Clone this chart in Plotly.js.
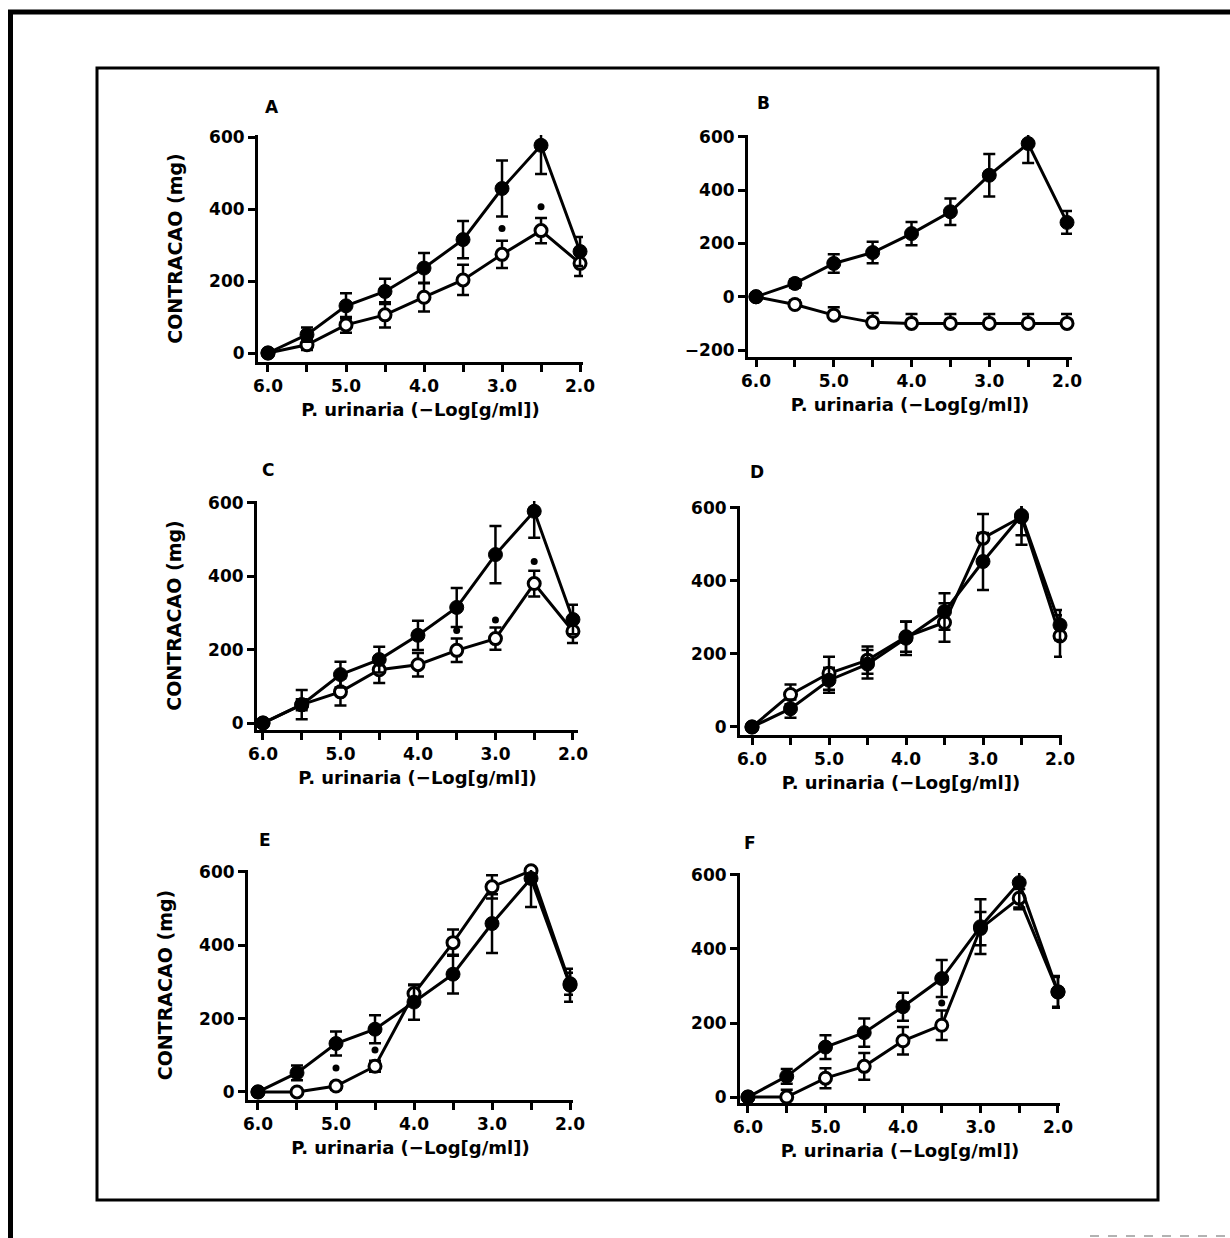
<!DOCTYPE html>
<html>
<head>
<meta charset="utf-8">
<script src="https://cdn.plot.ly/plotly-3.0.1.min.js"></script>
<style>html,body{margin:0;padding:0;background:#fff;}#chart{width:1230px;height:1238px;}</style>
</head>
<body>
<div id="chart"></div>
<script>
// ---- data ----
const doseX = [6.0, 5.5, 5.0, 4.5, 4.0, 3.5, 3.0, 2.5, 2.0];
const xTickVals = [6.0, 5.5, 5.0, 4.5, 4.0, 3.5, 3.0, 2.5, 2.0];
const xTickText = ["6.0", "", "5.0", "", "4.0", "", "3.0", "", "2.0"];
const yTicksStd = [0, 200, 400, 600];
const yTicksB = [-200, 0, 200, 400, 600];
const panelLabels = ["A", "B", "C", "D", "E", "F"];
const xTitle = "P. urinaria (\u2212Log[g/ml])";
const yTitle = "CONTRACAO (mg)";

const A_ctrl = [0, 51, 131, 171, 236, 315, 457, 577, 282];
const A_ctrlErr = [0, 20, 35, 35, 42, 52, 78, 80, 40];
const A_trt = [0, 23, 78, 106, 155, 203, 274, 340, 249];
const A_trtErr = [0, 15, 22, 35, 40, 42, 38, 35, 35];
const A_sigX = [3.0, 2.5];
const A_sigY = [346, 406];

const B_ctrl = [0, 50, 125, 166, 237, 319, 456, 575, 279];
const B_ctrlErr = [0, 15, 35, 40, 44, 50, 80, 73, 43];
const B_trt = [0, -29, -69, -96, -100, -100, -100, -100, -100];
const B_trtErr = [0, 15, 30, 35, 35, 35, 35, 35, 35];
const B_trtErrMinus = [0, 0, 0, 0, 0, 0, 0, 0, 0];
const B_sigX = [];
const B_sigY = [];

const C_ctrl = [0, 50, 132, 173, 239, 315, 459, 577, 282];
const C_ctrlErr = [0, 40, 35, 35, 40, 53, 78, 72, 40];
const C_trt = [0, 50, 85, 145, 159, 198, 230, 380, 250];
const C_trtErr = [0, 15, 37, 36, 32, 32, 30, 35, 32];
const C_sigX = [3.5, 3.0, 2.5];
const C_sigY = [252, 281, 440];

const D_ctrl = [0, 50, 128, 172, 243, 316, 453, 579, 279];
const D_ctrlErr = [0, 25, 34, 39, 46, 50, 78, 80, 41];
const D_trt = [0, 89, 147, 183, 247, 286, 517, 575, 249];
const D_trtErr = [0, 27, 45, 37, 41, 53, 66, 50, 57];
const D_sigX = [];
const D_sigY = [];

const E_ctrl = [0, 52, 132, 171, 245, 321, 459, 582, 291];
const E_ctrlErr = [0, 20, 33, 38, 48, 53, 80, 78, 45];
const E_trt = [0, 0, 16, 70, 268, 407, 559, 603, 295];
const E_trtErr = [0, 8, 10, 15, 23, 36, 32, 10, 30];
const E_sigX = [5.0, 4.5];
const E_sigY = [65, 114];

const F_ctrl = [0, 56, 135, 174, 244, 320, 460, 579, 284];
const F_ctrlErr = [0, 20, 32, 38, 38, 50, 74, 72, 43];
const F_trt = [0, 0, 51, 83, 152, 194, 455, 537, 284];
const F_trtErr = [0, 20, 27, 36, 37, 40, 45, 25, 40];
const F_sigX = [3.5];
const F_sigY = [254];

const panelsData = [
  {ctrl: A_ctrl, ctrlErr: A_ctrlErr, trt: A_trt, trtErr: A_trtErr, trtErrMinus: A_trtErr, sigX: A_sigX, sigY: A_sigY, yticks: yTicksStd},
  {ctrl: B_ctrl, ctrlErr: B_ctrlErr, trt: B_trt, trtErr: B_trtErr, trtErrMinus: B_trtErrMinus, sigX: B_sigX, sigY: B_sigY, yticks: yTicksB},
  {ctrl: C_ctrl, ctrlErr: C_ctrlErr, trt: C_trt, trtErr: C_trtErr, trtErrMinus: C_trtErr, sigX: C_sigX, sigY: C_sigY, yticks: yTicksStd},
  {ctrl: D_ctrl, ctrlErr: D_ctrlErr, trt: D_trt, trtErr: D_trtErr, trtErrMinus: D_trtErr, sigX: D_sigX, sigY: D_sigY, yticks: yTicksStd},
  {ctrl: E_ctrl, ctrlErr: E_ctrlErr, trt: E_trt, trtErr: E_trtErr, trtErrMinus: E_trtErr, sigX: E_sigX, sigY: E_sigY, yticks: yTicksStd},
  {ctrl: F_ctrl, ctrlErr: F_ctrlErr, trt: F_trt, trtErr: F_trtErr, trtErrMinus: F_trtErr, sigX: F_sigX, sigY: F_sigY, yticks: yTicksStd}
];

// ---- geometry (pixels) ----
const W = 1230, H = 1238;
const geom = [
  {l: 258, r: 583, t: 135, b: 362, xr: [6.128, 1.962], yr: [-25, 605.6], lab: [272, 107]},
  {l: 748, r: 1072, t: 135, b: 357, xr: [6.103, 1.936], yr: [-226, 607], lab: [763, 103]},
  {l: 257, r: 578, t: 501, b: 730, xr: [6.077, 1.935], yr: [-19, 605], lab: [268, 470]},
  {l: 740, r: 1062, t: 506, b: 735, xr: [6.156, 1.974], yr: [-22, 605], lab: [757, 472]},
  {l: 248, r: 573, t: 870, b: 1100, xr: [6.128, 1.962], yr: [-22, 605], lab: [265, 840]},
  {l: 740, r: 1060, t: 873, b: 1103, xr: [6.103, 1.974], yr: [-16, 605], lab: [750, 843]}
];

const FONT = "DejaVu Sans, Liberation Sans, Arial, sans-serif";
const px = v => v / W;
const py = v => 1 - v / H;

const traces = [];
const layout = {
  width: W, height: H,
  margin: {l: 0, r: 0, t: 0, b: 0},
  paper_bgcolor: "#ffffff",
  plot_bgcolor: "rgba(0,0,0,0)",
  showlegend: false,
  font: {family: FONT, color: "#000", size: 17, weight: "bold"},
  annotations: [],
  shapes: [
    {type: "rect", xref: "paper", yref: "paper", x0: px(97), x1: px(1158), y0: py(1200), y1: py(68), line: {color: "#000", width: 3}},
    {type: "line", xref: "paper", yref: "paper", x0: px(8), x1: px(1230), y0: py(12), y1: py(12), line: {color: "#000", width: 5}},
    {type: "line", xref: "paper", yref: "paper", x0: px(10.5), x1: px(10.5), y0: py(10), y1: py(1238), line: {color: "#000", width: 5}},
    {type: "line", xref: "paper", yref: "paper", x0: px(1090), x1: px(1230), y0: py(1236), y1: py(1236), line: {color: "#999", width: 1.5, dash: "dash"}}
  ]
};

panelsData.forEach((p, i) => {
  const g = geom[i];
  const n = i + 1;
  const xa = n === 1 ? "x" : "x" + n;
  const ya = n === 1 ? "y" : "y" + n;
  const xk = n === 1 ? "xaxis" : "xaxis" + n;
  const yk = n === 1 ? "yaxis" : "yaxis" + n;

  // treated (open circles) drawn first, control (filled) on top
  traces.push({
    type: "scatter", mode: "lines+markers", x: doseX, y: p.trt, xaxis: xa, yaxis: ya,
    cliponaxis: false,
    line: {color: "#000", width: 3},
    marker: {symbol: "circle", size: 12, color: "#fff", line: {color: "#000", width: 3}},
    error_y: {type: "data", symmetric: false, array: p.trtErr, arrayminus: p.trtErrMinus, visible: true, color: "#000", thickness: 2.5, width: 6}
  });
  traces.push({
    type: "scatter", mode: "lines+markers", x: doseX, y: p.ctrl, xaxis: xa, yaxis: ya,
    cliponaxis: false,
    line: {color: "#000", width: 3},
    marker: {symbol: "circle", size: 14, color: "#000", line: {color: "#000", width: 1}},
    error_y: {type: "data", array: p.ctrlErr, visible: true, color: "#000", thickness: 2.5, width: 6}
  });
  if (p.sigX.length) {
    traces.push({
      type: "scatter", mode: "markers", x: p.sigX, y: p.sigY, xaxis: xa, yaxis: ya,
      cliponaxis: false,
      marker: {symbol: "circle", size: 7, color: "#000"}
    });
  }

  layout[xk] = {
    domain: [px(g.l), px(g.r)], anchor: ya, range: g.xr,
    tickvals: xTickVals, ticktext: xTickText,
    ticks: "outside", ticklen: 7, tickwidth: 3, tickcolor: "#000",
    showline: true, linewidth: 3, linecolor: "#000",
    showgrid: false, zeroline: false, fixedrange: true,
    tickfont: {family: FONT, size: 17, color: "#000", weight: "bold"},
    title: {text: xTitle, font: {family: FONT, size: 18, color: "#000", weight: "bold"}, standoff: 8}
  };
  layout[yk] = {
    domain: [py(g.b), py(g.t)], anchor: xa, range: g.yr,
    tickvals: p.yticks,
    ticks: "outside", ticklen: 7, tickwidth: 3, tickcolor: "#000",
    showline: true, linewidth: 3, linecolor: "#000",
    showgrid: false, zeroline: false, fixedrange: true,
    tickfont: {family: FONT, size: 17, color: "#000", weight: "bold"},
    title: (i % 2 === 0) ? {text: yTitle, font: {family: FONT, size: 19, color: "#000", weight: "bold"}, standoff: 22} : {text: ""}
  };
  layout.annotations.push({
    xref: "paper", yref: "paper", x: px(g.lab[0]), y: py(g.lab[1]),
    xanchor: "center", yanchor: "middle", showarrow: false,
    text: panelLabels[i], font: {family: FONT, size: 17, color: "#000", weight: "bold"}
  });
});

Plotly.newPlot("chart", traces, layout, {staticPlot: true, displayModeBar: false});
</script>
</body>
</html>
